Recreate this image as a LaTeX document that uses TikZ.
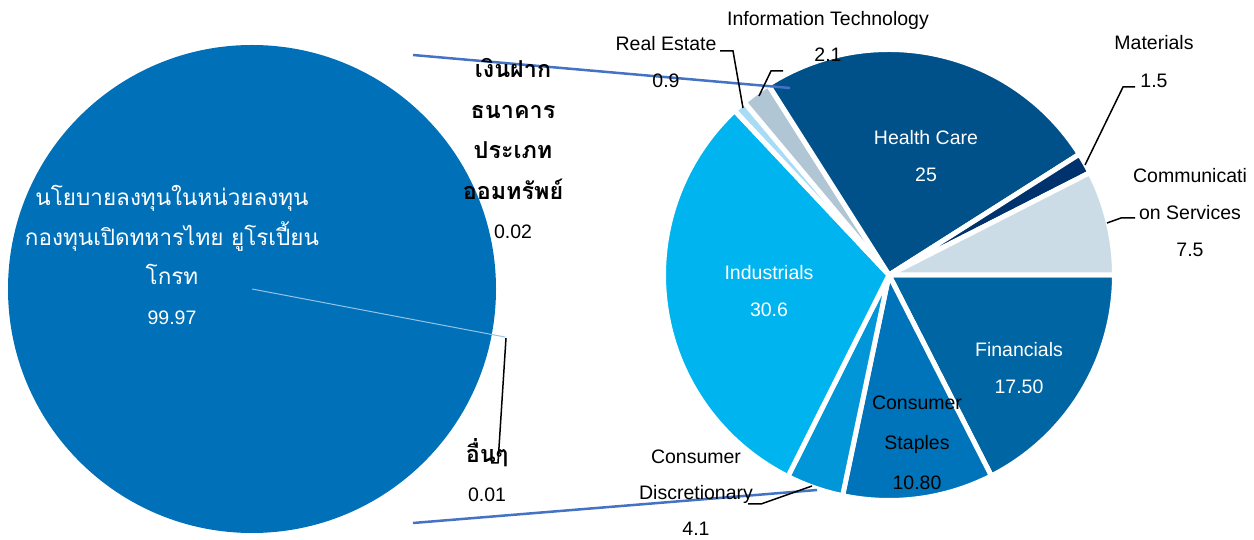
\documentclass[tikz,border=0pt]{standalone}
\usepackage{fontspec}
\setmainfont{Liberation Sans}
\newfontfamily\thai[Script=Thai]{Loma}
\definecolor{cMain}{RGB}{0,112,184}
\definecolor{cInd}{RGB}{0,181,239}
\definecolor{cRE}{RGB}{166,220,245}
\definecolor{cIT}{RGB}{176,198,213}
\definecolor{cHC}{RGB}{0,80,138}
\definecolor{cMat}{RGB}{0,51,110}
\definecolor{cCom}{RGB}{203,220,231}
\definecolor{cFin}{RGB}{0,101,163}
\definecolor{cStap}{RGB}{0,116,186}
\definecolor{cDisc}{RGB}{0,150,216}
\definecolor{cSer}{RGB}{68,114,196}
\definecolor{cThin}{RGB}{150,195,230}
\begin{document}
\begin{tikzpicture}[x=0.6pt,y=-0.6pt,
  lbl/.style={font=\fontsize{11.7}{14}\selectfont, anchor=base, inner sep=0pt},
  wlbl/.style={lbl, text=white},
  thl/.style={font=\thai\fontsize{14}{16}\selectfont, anchor=base, inner sep=0pt},
  wthl/.style={thl, font=\thai\fontsize{13.5}{16}\selectfont, text=white},
  bthl/.style={thl, font=\thai\bfseries\fontsize{14}{16}\selectfont},
  leader/.style={draw=black, line width=0.9pt},
  serline/.style={draw=cSer, line width=1.5pt},
  wedge/.style={draw=white, line width=3pt, line join=round}]
\useasboundingbox (0,0) rectangle (1254,540);
% left pie
\coordinate (lc) at (252,289);
\fill[cMain] (lc) circle[radius=244];
\coordinate (lthin) at (505,337);
\draw[cThin, line width=0.6pt] (lc) -- (lthin);
% right pie
\coordinate (rc) at (889,275);
\foreach \a/\b/\c in {0/63/cFin, 63/101.88/cStap, 101.88/116.64/cDisc, 116.64/226.8/cInd,
  226.8/230.04/cRE, 230.04/237.6/cIT, 237.6/327.6/cHC, 327.6/333/cMat, 333/360/cCom}{
  \filldraw[wedge, fill=\c] (rc) -- ++(\a:225.5) arc[start angle=\a, end angle=\b, radius=225.5] -- cycle;
}
% series lines
\coordinate (s1a) at (413,55); \coordinate (s1b) at (790,88);
\coordinate (s2a) at (413,523); \coordinate (s2b) at (817,490);
\draw[serline] (s1a) -- (s1b);
\draw[serline] (s2a) -- (s2b);
% left pie labels
\node[wthl] (m1) at (172,206) {นโยบายลงทุนในหน่วยลงทุน};
\node[wthl] (m2) at (172,246) {กองทุนเปิดทหารไทย ยูโรเปี้ยน};
\node[wthl] (m3) at (172,285) {โกรท};
\node[wlbl] (m4) at (172,325) {99.97};
\node[bthl] (d1) at (513,78) {เงินฝาก};
\node[bthl] (d2) at (513,119) {ธนาคาร};
\node[bthl] (d3) at (513,159) {ประเภท};
\node[bthl] (d4) at (513,200) {ออมทรัพย์};
\node[lbl] (d5) at (513,239) {0.02};
\node[bthl] (o1) at (487,463) {อื่นๆ};
\node[lbl] (o2) at (487,502) {0.01};
\coordinate (oa) at (506,338); \coordinate (ob) at (498,463); \coordinate (oc) at (491,463);
\draw[leader] (oa) -- (ob) -- (oc);
% right pie labels
\node[lbl] (it1) at (828,26) {Information Technology};
\node[lbl] (it2) at (828,62) {2.1};
\node[lbl] (re1) at (666,51) {Real Estate};
\node[lbl] (re2) at (666,88) {0.9};
\node[lbl] (ma1) at (1154,50) {Materials};
\node[lbl] (ma2) at (1154,88) {1.5};
\node[lbl] (co1) at (1190,183) {Communicati};
\node[lbl] (co2) at (1190,220) {on Services};
\node[lbl] (co3) at (1190,257) {7.5};
\node[wlbl] (hc1) at (926,145) {Health Care};
\node[wlbl] (hc2) at (926,182) {25};
\node[wlbl] (in1) at (769,280) {Industrials};
\node[wlbl] (in2) at (769,317) {30.6};
\node[wlbl] (fi1) at (1019,357) {Financials};
\node[wlbl] (fi2) at (1019,394) {17.50};
\node[lbl] (st1) at (917,410) {Consumer};
\node[lbl] (st2) at (917,450) {Staples};
\node[lbl] (st3) at (917,490) {10.80};
\node[lbl] (cd1) at (696,464) {Consumer};
\node[lbl] (cd2) at (696,500) {Discretionary};
\node[lbl] (cd3) at (696,536) {4.1};
% leaders
\coordinate (ita) at (759,96); \coordinate (itb) at (771,71); \coordinate (itc) at (783,71);
\draw[leader] (ita) -- (itb) -- (itc);
\coordinate (rea) at (743,108); \coordinate (reb) at (733,51); \coordinate (rec) at (720,51);
\draw[leader] (rea) -- (reb) -- (rec);
\coordinate (maa) at (1085,165); \coordinate (mab) at (1123,87); \coordinate (mac) at (1135,87);
\draw[leader] (maa) -- (mab) -- (mac);
\coordinate (coa) at (1107,223); \coordinate (cob) at (1121,218); \coordinate (coc) at (1135,218);
\draw[leader] (coa) -- (cob) -- (coc);
\coordinate (cda) at (812,486); \coordinate (cdb) at (761,504); \coordinate (cdc) at (748,504);
\draw[leader] (cda) -- (cdb) -- (cdc);
\end{tikzpicture}
\end{document}
